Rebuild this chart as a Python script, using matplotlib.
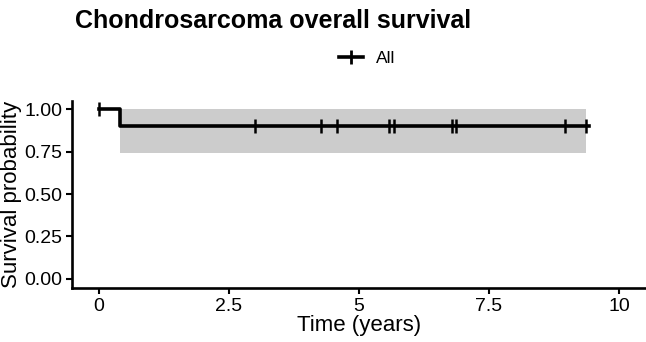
import matplotlib.pyplot as plt
from matplotlib.lines import Line2D

plt.rcParams['font.family'] = ['Liberation Sans', 'DejaVu Sans']

# Kaplan-Meier step data (years)
step_time = [0.0, 0.40, 9.43]
step_surv = [1.00, 0.90, 0.90]
ci_time = [0.40, 9.36]
ci_lower = [0.74, 0.74]
ci_upper = [1.00, 1.00]
censor_time = [0.0, 2.99, 4.27, 4.57, 5.58, 5.68, 6.78, 6.86, 8.97, 9.36]
censor_surv = [1.00, 0.90, 0.90, 0.90, 0.90, 0.90, 0.90, 0.90, 0.90, 0.90]
x_ticks = [0, 2.5, 5, 7.5, 10]
x_tick_labels = ['0', '2.5', '5', '7.5', '10']
y_ticks = [0.0, 0.25, 0.50, 0.75, 1.00]
y_tick_labels = ['0.00', '0.25', '0.50', '0.75', '1.00']

fig = plt.figure(figsize=(6.46, 3.42), dpi=100)
ax = fig.add_axes([0.1115, 0.158, 0.8885, 0.548])

ax.fill_between(ci_time, ci_lower, ci_upper, step='post', color='#cccccc', linewidth=0)
ax.step(step_time, step_surv, where='post', color='black', linewidth=2.6)
ax.plot(censor_time, censor_surv, linestyle='none', marker='|', markersize=10,
        markeredgewidth=1.8, color='black')

ax.set_xlim(-0.52, 10.52)
ax.set_ylim(-0.053, 1.05)
ax.set_xticks(x_ticks)
ax.set_xticklabels(x_tick_labels)
ax.set_yticks(y_ticks)
ax.set_yticklabels(y_tick_labels)
ax.tick_params(direction='out', length=4, width=1.5, labelsize=14, pad=3, colors='black')

for side in ['top', 'right']:
    ax.spines[side].set_visible(False)
for side in ['left', 'bottom']:
    ax.spines[side].set_linewidth(1.9)

ax.set_xlabel('Time (years)', fontsize=16, labelpad=0)
ax.set_ylabel('Survival probability', fontsize=16, labelpad=2)

fig.text(0.116, 0.94, 'Chondrosarcoma overall survival', fontsize=18,
         fontweight='bold', ha='left', va='center')

handle = Line2D([], [], color='black', linewidth=2.6, marker='|',
                markersize=10, markeredgewidth=2)
fig.legend([handle], ['All'], loc='center', bbox_to_anchor=(0.568, 0.83),
           frameon=False, fontsize=12.5, handlelength=1.4, handletextpad=0.7)

fig.savefig('out.png', dpi=100)
